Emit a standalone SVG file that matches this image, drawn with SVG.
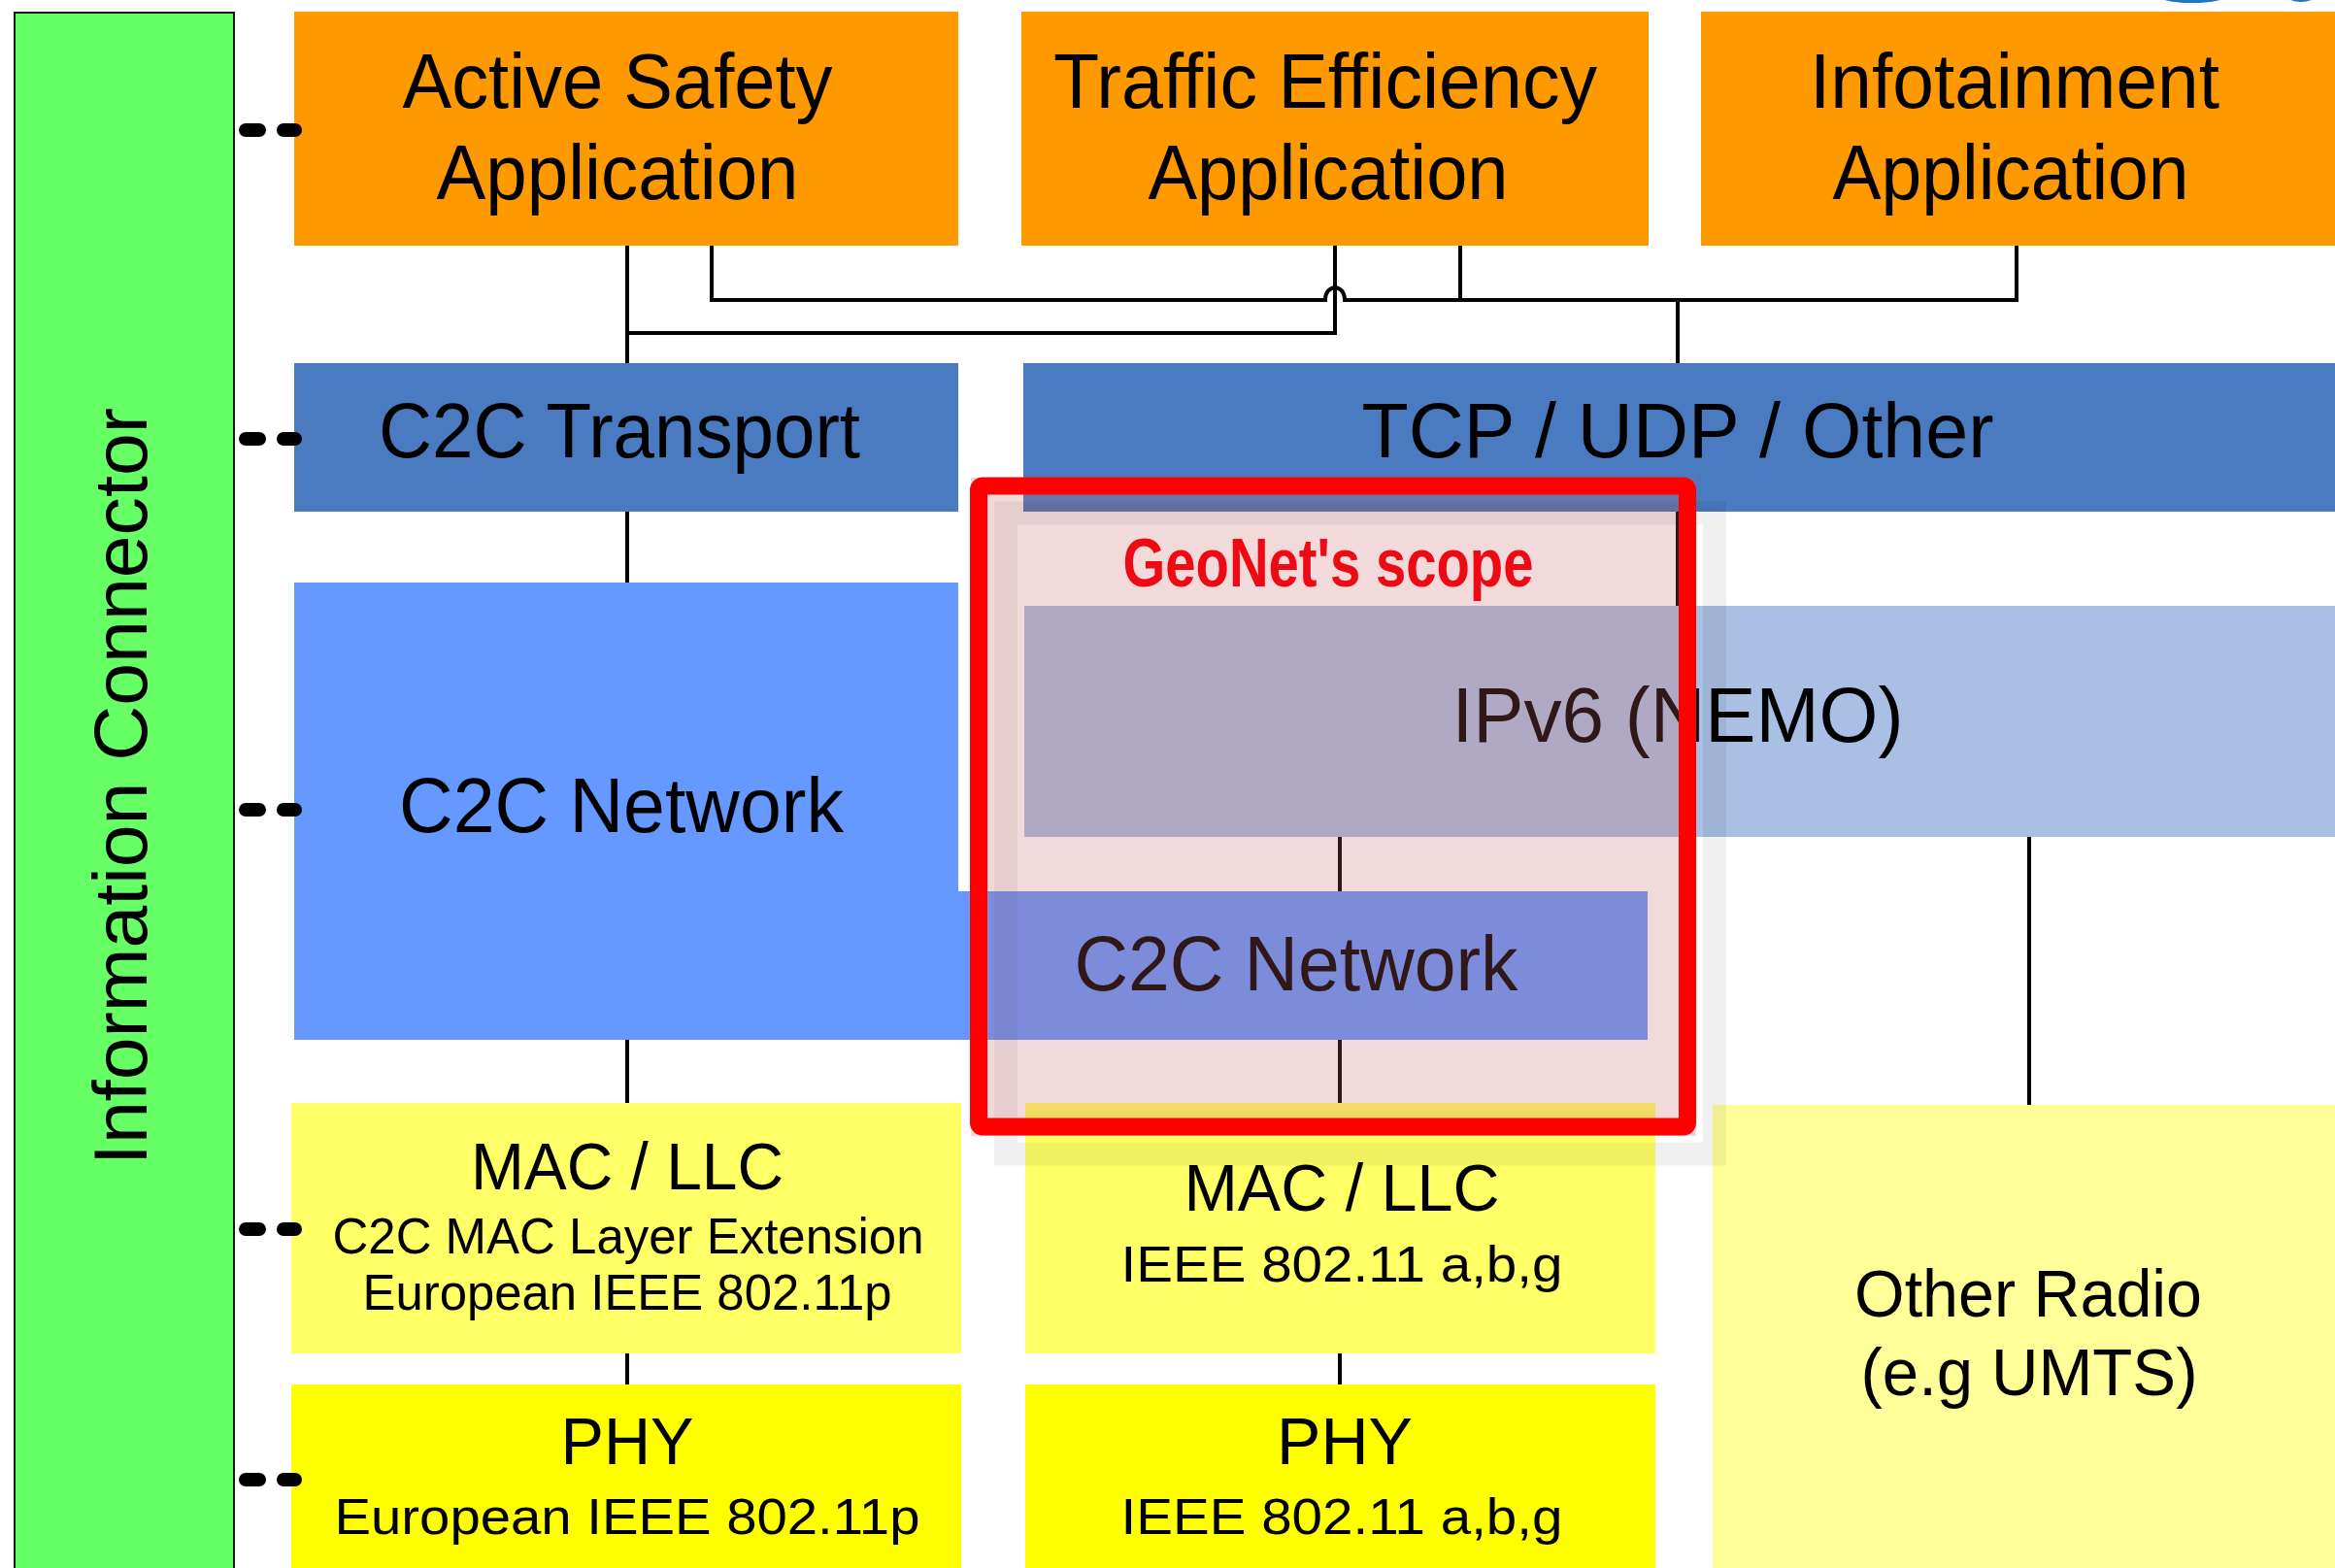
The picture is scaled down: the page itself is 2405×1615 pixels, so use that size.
<svg xmlns="http://www.w3.org/2000/svg" width="2405" height="1615" viewBox="0 0 2405 1615">
<style>
  text { font-family: "Liberation Sans", Arial, Helvetica, sans-serif; fill: #000; text-anchor: middle; }
  .t80 { font-size: 80px; }
  .t68 { font-size: 68px; }
  .t52 { font-size: 52px; }
  .conn path { fill: none; stroke: #000; stroke-width: 4; }
  .conn path.dot { fill: none; stroke: #000; stroke-width: 14; stroke-linecap: round; }
  .orange { fill: #ff9900; }
  .dblue { fill: #4a7bc0; }
  .nblue { fill: #6699ff; }
  .lblue { fill: #a9bfe3; }
  .mac { fill: #ffff66; }
  .phy { fill: #ffff00; }
  .radio { fill: #ffff99; }
</style>
<rect width="2405" height="1615" fill="#ffffff"/>

<!-- logo fragment at top right -->
<g id="logo-fragment">
  <ellipse cx="2258" cy="-8" rx="42" ry="11" fill="#1b78c4"/>
  <ellipse cx="2370" cy="-7" rx="17" ry="9" fill="#1b78c4"/>
</g>

<g id="information-connector">
  <rect x="15" y="13" width="226" height="1620" fill="#66ff66" stroke="#1a1a1a" stroke-width="2"/>
  <text transform="translate(151,810) rotate(-90)" style="font-size:78px" textLength="780" lengthAdjust="spacingAndGlyphs">Information Connector</text>
</g>

<g id="active-safety">
  <rect class="orange" x="303" y="12" width="684" height="241"/>
  <text class="t80" x="636" y="111" textLength="443" lengthAdjust="spacingAndGlyphs">Active Safety</text>
  <text class="t80" x="636" y="205" textLength="373" lengthAdjust="spacingAndGlyphs">Application</text>
</g>
<g id="traffic-efficiency">
  <rect class="orange" x="1052" y="12" width="646" height="241"/>
  <text class="t80" x="1365" y="111" textLength="560" lengthAdjust="spacingAndGlyphs">Traffic Efficiency</text>
  <text class="t80" x="1368" y="205" textLength="371" lengthAdjust="spacingAndGlyphs">Application</text>
</g>
<g id="infotainment">
  <rect class="orange" x="1752" y="12" width="653" height="241"/>
  <text class="t80" x="2075" y="111" textLength="422" lengthAdjust="spacingAndGlyphs">Infotainment</text>
  <text class="t80" x="2071" y="205" textLength="367" lengthAdjust="spacingAndGlyphs">Application</text>
</g>

<g id="c2c-transport">
  <rect class="dblue" x="303" y="374" width="684" height="153"/>
  <text class="t80" x="638" y="471" textLength="496" lengthAdjust="spacingAndGlyphs">C2C Transport</text>
</g>
<g id="tcp-udp-other">
  <rect class="dblue" x="1054" y="374" width="1351" height="153"/>
  <text class="t80" x="1728" y="471" textLength="651" lengthAdjust="spacingAndGlyphs">TCP / UDP / Other</text>
</g>

<g id="c2c-network-main">
  <path class="nblue" d="M303,600 H987 V918 H1014 V1071 H303 Z"/>
  <text class="t80" x="640" y="857" textLength="458" lengthAdjust="spacingAndGlyphs">C2C Network</text>
</g>
<g id="ipv6-nemo">
  <rect class="lblue" x="1055" y="624" width="1350" height="238"/>
  <text class="t80" x="1728" y="764" textLength="465" lengthAdjust="spacingAndGlyphs">IPv6 (NEMO)</text>
</g>
<g id="c2c-network-geonet">
  <rect class="nblue" x="1014" y="918" width="683" height="153"/>
  <text class="t80" x="1335" y="1020" textLength="457" lengthAdjust="spacingAndGlyphs">C2C Network</text>
</g>

<g id="mac-llc-c2c">
  <rect class="mac" x="300" y="1136" width="690" height="258"/>
  <text class="t68" x="646" y="1225" textLength="322" lengthAdjust="spacingAndGlyphs">MAC / LLC</text>
  <text class="t52" x="647" y="1291" textLength="609" lengthAdjust="spacingAndGlyphs">C2C MAC Layer Extension</text>
  <text class="t52" x="646" y="1349" textLength="545" lengthAdjust="spacingAndGlyphs">European IEEE 802.11p</text>
</g>
<g id="phy-c2c">
  <rect class="phy" x="300" y="1426" width="690" height="189"/>
  <text class="t68" x="646" y="1508" textLength="137" lengthAdjust="spacingAndGlyphs">PHY</text>
  <text class="t52" x="646" y="1580" textLength="603" lengthAdjust="spacingAndGlyphs">European IEEE  802.11p</text>
</g>
<g id="mac-llc-wifi">
  <rect class="mac" x="1056" y="1136" width="649" height="258"/>
  <text class="t68" x="1382" y="1247" textLength="325" lengthAdjust="spacingAndGlyphs">MAC / LLC</text>
  <text class="t52" x="1382" y="1320" textLength="455" lengthAdjust="spacingAndGlyphs">IEEE 802.11 a,b,g</text>
</g>
<g id="phy-wifi">
  <rect class="phy" x="1056" y="1426" width="649" height="189"/>
  <text class="t68" x="1385" y="1508" textLength="140" lengthAdjust="spacingAndGlyphs">PHY</text>
  <text class="t52" x="1382" y="1580" textLength="455" lengthAdjust="spacingAndGlyphs">IEEE 802.11 a,b,g</text>
</g>
<g id="other-radio">
  <rect class="radio" x="1764" y="1138" width="641" height="477"/>
  <text class="t68" x="2089" y="1356" textLength="358" lengthAdjust="spacingAndGlyphs">Other Radio</text>
  <text class="t68" x="2090" y="1437" textLength="347" lengthAdjust="spacingAndGlyphs">(e.g UMTS)</text>
</g>

<g id="connectors" class="conn">
  <path d="M646,253 V374"/>
  <path d="M1375,253 V343 H646"/>
  <path d="M733,253 V309 H1365 C1365,292 1385,292 1385,309 H2077 V253"/>
  <path d="M1504,253 V309"/>
  <path d="M1728,309 V374"/>
  <path d="M646,527 V600"/>
  <path d="M1728,527 V624"/>
  <path d="M1380,862 V918"/>
  <path d="M646,1071 V1136"/>
  <path d="M1380,1071 V1136"/>
  <path d="M2090,862 V1138"/>
  <path d="M646,1394 V1426"/>
  <path d="M1380,1394 V1426"/>
  <path class="dot" d="M253,134 H267 M292,134 H304"/>
  <path class="dot" d="M253,452 H267 M292,452 H304"/>
  <path class="dot" d="M253,834 H267 M292,834 H304"/>
  <path class="dot" d="M253,1266 H267 M292,1266 H304"/>
  <path class="dot" d="M253,1524 H267 M292,1524 H304"/>
</g>

<g id="geonet-scope">
  <rect x="1036" y="528.5" width="730" height="660" fill="none" stroke="#000" stroke-opacity="0.06" stroke-width="24"/>
  <rect x="1000" y="492" width="747" height="678" fill="rgb(201,101,101)" fill-opacity="0.24"/>
  <rect x="1008" y="500.5" width="730" height="660" rx="4" fill="none" stroke="#ff0000" stroke-width="18"/>
  <text x="1368" y="604" style="font-size:70px;font-weight:bold;fill:#ee0a14" textLength="423" lengthAdjust="spacingAndGlyphs">GeoNet's scope</text>
</g>
</svg>
